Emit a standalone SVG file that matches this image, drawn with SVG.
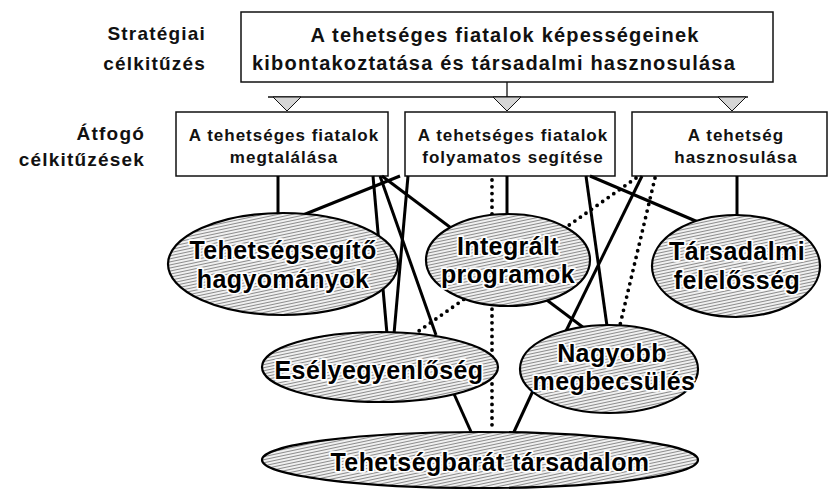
<svg xmlns="http://www.w3.org/2000/svg" width="831" height="491" viewBox="0 0 831 491">
<defs>
<pattern id="hatch" width="5" height="3" patternUnits="userSpaceOnUse" patternTransform="rotate(-12)">
<rect width="5" height="3" fill="#f0f0f0"/>
<rect width="5" height="1" fill="#8c8c8c"/>
</pattern>
</defs>
<style>
.lbl{font-family:"Liberation Sans",Arial,sans-serif;font-weight:bold;fill:#111}
.side{font-size:19px;letter-spacing:1.2px;text-anchor:end}
.title{font-size:20px;letter-spacing:1.2px;text-anchor:middle}
.bt{font-size:17px;letter-spacing:1px;text-anchor:middle}
.box{fill:#fff;stroke:#111;stroke-width:1.5}
.tri{fill:#d6d6d6;stroke:#111;stroke-width:1}
.thin{stroke:#111;stroke-width:1.3;fill:none}
.ell{fill:url(#hatch);stroke:#000;stroke-width:2.2}
.et{font-family:"Liberation Sans",Arial,sans-serif;font-weight:bold;font-size:25px;fill:#000;stroke:#fff;stroke-width:3.5;paint-order:stroke;stroke-linejoin:round;text-anchor:middle;letter-spacing:0.4px}
.s{stroke:#000;stroke-width:3;fill:none}
.d{stroke:#000;stroke-width:3.8;stroke-dasharray:0 6.8;stroke-linecap:round;fill:none}
</style>

<g id="labels">
<text class="lbl side" x="206" y="40">Stratégiai</text>
<text class="lbl side" x="206" y="70">célkitűzés</text>
<text class="lbl side" x="145" y="140">Átfogó</text>
<text class="lbl side" x="145" y="166">célkitűzések</text>
</g>

<g id="strategic">
<rect class="box" x="241" y="12" width="532" height="70"/>
<text class="lbl title" x="505" y="42">A tehetséges fiatalok képességeinek</text>
<text class="lbl title" x="494" y="70">kibontakoztatása és társadalmi hasznosulása</text>
</g>

<g id="tree">
<path class="thin" d="M507 82V97M268 97H748"/>
<polygon class="tri" points="273,97 301,97 287,111"/>
<polygon class="tri" points="493,97 521,97 507,111"/>
<polygon class="tri" points="718,97 746,97 732,111"/>
</g>

<g id="box1">
<rect class="box" x="176" y="112" width="212" height="64"/>
<text class="lbl bt" x="284" y="141">A tehetséges fiatalok</text>
<text class="lbl bt" x="284" y="163">megtalálása</text>
</g>
<g id="box2">
<rect class="box" x="405" y="112" width="210" height="64"/>
<text class="lbl bt" x="513" y="141">A tehetséges fiatalok</text>
<text class="lbl bt" x="513" y="163">folyamatos segítése</text>
</g>
<g id="box3">
<rect class="box" x="632" y="112" width="195" height="64"/>
<text class="lbl bt" x="736" y="141">A tehetség</text>
<text class="lbl bt" x="736" y="163">hasznosulása</text>
</g>

<g id="connectors">
<path class="s" d="M278 176V214"/>
<path class="s" d="M400 176L303 215"/>
<path class="s" d="M373 176L387 334"/>
<path class="s" d="M380 176L436 335"/>
<path class="s" d="M408 176L394 334"/>
<path class="s" d="M382 176L588 331"/>
<path class="s" d="M507 176V215"/>
<path class="s" d="M586 176L607 326"/>
<path class="s" d="M590 176L698 222"/>
<path class="s" d="M642 176L566 331"/>
<path class="s" d="M737 176V217"/>
<path class="s" d="M450 385L472 434"/>
<path class="s" d="M538 380L513 434"/>
<path class="d" d="M492 180V430"/>
<path class="d" d="M636 178L416 333"/>
<path class="d" d="M655 178L620 325"/>
</g>

<g id="e1">
<ellipse class="ell" cx="283" cy="264" rx="115" ry="51"/>
<text class="et" x="283" y="259">Tehetségsegítő</text>
<text class="et" x="283" y="288">hagyományok</text>
</g>
<g id="e2">
<ellipse class="ell" cx="508" cy="260" rx="82" ry="46"/>
<text class="et" x="508" y="255">Integrált</text>
<text class="et" x="508" y="283">programok</text>
</g>
<g id="e3">
<ellipse class="ell" cx="736" cy="266" rx="84" ry="51"/>
<text class="et" x="737" y="260">Társadalmi</text>
<text class="et" x="737" y="289">felelősség</text>
</g>
<g id="e4">
<ellipse class="ell" cx="380" cy="367" rx="118" ry="35"/>
<text class="et" x="379" y="379">Esélyegyenlőség</text>
</g>
<g id="e5">
<ellipse class="ell" cx="609" cy="369" rx="89" ry="44"/>
<text class="et" x="612" y="362">Nagyobb</text>
<text class="et" x="614" y="390">megbecsülés</text>
</g>
<g id="e6">
<ellipse class="ell" cx="480" cy="460" rx="218" ry="28"/>
<text class="et" x="490" y="471">Tehetségbarát társadalom</text>
</g>
</svg>
